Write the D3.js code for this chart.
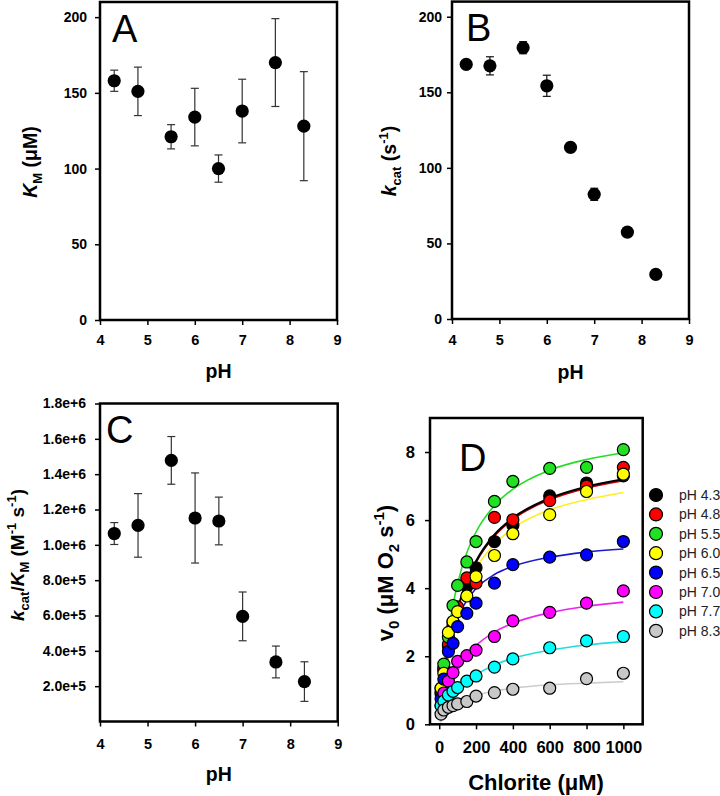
<!DOCTYPE html>
<html><head><meta charset="utf-8">
<script src="https://cdn.jsdelivr.net/npm/d3@7"></script>
<style>
body{margin:0;background:#fff}
svg{display:block}
text{font-family:"Liberation Sans",Arial,sans-serif}
</style>
</head><body>
<svg id="chart" width="720" height="796"></svg>
<script>
// ---------- data (panels A-C) ----------
const pH = [4.3, 4.8, 5.5, 6.0, 6.5, 7.0, 7.7, 8.3];
const kmVal = [158, 151, 121, 134, 100, 138, 170, 128];
const kmErr = [7, 16, 8, 19, 9, 21, 29, 36];
const kcatVal = [168.5, 167.5, 179.5, 154.3, 113.5, 82.5, 57.5, 29.5];
const kcatErr = [2, 6, 4, 7, 3, 4, 3, 2];
const effVal = [1.064e6, 1.11e6, 1.478e6, 1.152e6, 1.135e6, 5.95e5, 3.37e5, 2.26e5];
const effErr = [6.2e4, 1.8e5, 1.35e5, 2.55e5, 1.35e5, 1.38e5, 9e4, 1.12e5];
const phTicks = [4, 5, 6, 7, 8, 9];
const kmTicks = [0, 50, 100, 150, 200];
const kcatTicks = [0, 50, 100, 150, 200];
const effTicks = [2e5, 4e5, 6e5, 8e5, 1e6, 1.2e6, 1.4e6, 1.6e6, 1.8e6];

// ---------- data (panel D) ----------
const seriesNames = ["pH 4.3", "pH 4.8", "pH 5.5", "pH 6.0", "pH 6.5", "pH 7.0", "pH 7.7", "pH 8.3"];
const chlorite = [10, 25, 50, 75, 100, 150, 200, 300, 400, 600, 800, 1000];
const v43 = [0.90, 1.60, 2.30, 2.90, 3.40, 4.05, 4.60, 5.37, 5.85, 6.71, 7.09, 7.30];
const v48 = [0.95, 1.65, 2.35, 3.00, 3.45, 4.30, 4.15, 6.08, 6.01, 6.57, 7.00, 7.55];
const v55 = [1.05, 1.77, 2.56, 3.49, 4.08, 4.77, 5.37, 6.55, 7.14, 7.52, 7.55, 8.07];
const v60 = [1.06, 1.50, 2.70, 3.02, 3.31, 3.77, 4.34, 4.96, 5.60, 6.16, 6.84, 7.35];
const v65 = [0.75, 1.33, 2.14, 2.38, 2.87, 3.26, 3.56, 4.15, 4.69, 4.91, 4.98, 5.37];
const v70 = [0.55, 0.92, 1.27, 1.52, 1.85, 2.02, 2.18, 2.58, 3.04, 3.29, 3.56, 3.92];
const v77 = [0.55, 0.68, 0.86, 0.97, 1.08, 1.27, 1.42, 1.68, 1.92, 2.25, 2.45, 2.58];
const v83 = [0.30, 0.42, 0.50, 0.55, 0.60, 0.67, 0.83, 0.93, 1.03, 1.06, 1.34, 1.50];
const fitChlorite = [5, 25, 50, 75, 100, 150, 200, 300, 400, 600, 800, 1000];
const fit43 = [0.28, 1.22, 2.13, 2.84, 3.38, 4.21, 4.79, 5.57, 6.06, 6.64, 6.98, 7.20];
const fit48 = [0.25, 1.18, 2.09, 2.80, 3.34, 4.17, 4.75, 5.53, 6.02, 6.60, 6.94, 7.16];
const fit55 = [0.37, 1.59, 2.70, 3.51, 4.14, 5.04, 5.65, 6.43, 6.91, 7.47, 7.78, 7.98];
const fit60 = [0.27, 1.19, 2.06, 2.72, 3.25, 4.03, 4.58, 5.30, 5.76, 6.30, 6.60, 6.81];
const fit65 = [0.33, 1.34, 2.15, 2.71, 3.11, 3.64, 3.99, 4.40, 4.64, 4.91, 5.06, 5.15];
const fit70 = [0.13, 0.56, 0.98, 1.32, 1.59, 2.00, 2.31, 2.71, 2.97, 3.28, 3.47, 3.59];
const fit77 = [0.07, 0.32, 0.58, 0.79, 0.97, 1.24, 1.45, 1.74, 1.94, 2.18, 2.33, 2.43];
const fit83 = [0.05, 0.22, 0.38, 0.50, 0.60, 0.75, 0.85, 0.98, 1.06, 1.16, 1.21, 1.25];
const chloriteTicks = [0, 200, 400, 600, 800, 1000];
const vTicks = [0, 2, 4, 6, 8];

// styles
const fillColors = ["#000000", "#ff0000", "#22e022", "#ffff00", "#0000ff", "#ff00ff", "#00ffff", "#c8c8c8"];
const lineColors = ["#000000", "#cc0000", "#22dd22", "#ffee22", "#1a1acc", "#ee22ee", "#22dddd", "#cccccc"];

const vSeries = [v43, v48, v55, v60, v65, v70, v77, v83];
const fitSeries = [fit43, fit48, fit55, fit60, fit65, fit70, fit77, fit83];

const svg = d3.select("#chart");
svg.append("rect").attr("width", 720).attr("height", 796).attr("fill", "#fff");

function styleAxis(sel, fs) {
  sel.select(".domain").remove();
  sel.selectAll(".tick line").attr("stroke", "#000").attr("stroke-width", 1.5);
  sel.selectAll(".tick text").attr("fill", "#000").attr("font-weight", "bold")
     .attr("font-size", fs).attr("font-family", '"Liberation Sans",Arial,sans-serif');
}

function phPanel(o) {
  const g = svg.append("g");
  const x = d3.scaleLinear().domain([4, 9]).range([o.l, o.r]);
  const y = d3.scaleLinear().domain(o.yDom).range([o.b, o.t]);
  g.append("g").attr("transform", `translate(0,${o.b})`)
    .call(d3.axisBottom(x).tickValues(phTicks).tickSize(5).tickSizeOuter(0).tickPadding(o.xPad).tickFormat(d3.format("d")))
    .call(s => styleAxis(s, 14.5));
  g.append("g").attr("transform", `translate(${o.l},0)`)
    .call(d3.axisLeft(y).tickValues(o.yTicks).tickSize(5).tickSizeOuter(0).tickPadding(o.yPad).tickFormat(o.fmt))
    .call(s => styleAxis(s, 14));
  const rows = pH.map((p, i) => ({p, v: o.vals[i], e: o.errs[i]}));
  const eb = g.append("g").attr("stroke", o.errColor).attr("stroke-width", 1.2);
  rows.forEach(d => {
    eb.append("line").attr("x1", x(d.p)).attr("x2", x(d.p)).attr("y1", y(d.v - d.e)).attr("y2", y(d.v + d.e));
    [d.v - d.e, d.v + d.e].forEach(vv => eb.append("line")
      .attr("x1", x(d.p) - 4).attr("x2", x(d.p) + 4).attr("y1", y(vv)).attr("y2", y(vv)));
  });
  g.append("g").selectAll("circle").data(rows).join("circle")
    .attr("cx", d => x(d.p)).attr("cy", d => y(d.v)).attr("r", 6.6).attr("fill", "#000");
  g.append("rect").attr("x", o.l).attr("y", o.t).attr("width", o.r - o.l).attr("height", o.b - o.t)
    .attr("fill", "none").attr("stroke", "#000").attr("stroke-width", 2.5);
  g.append("text").attr("x", (o.l + o.r) / 2).attr("y", o.pHy).attr("text-anchor", "middle")
    .attr("font-weight", "bold").attr("font-size", 19.5).text("pH");
  g.append("text").attr("x", o.letX).attr("y", o.letY).attr("font-family", '"Open Sans",sans-serif')
    .attr("font-size", 38).text(o.letter);
  return g;
}

// Panel A
const gA = phPanel({l: 100, r: 337, t: 2, b: 320, yDom: [0, 210], yTicks: kmTicks, fmt: d3.format("d"),
  vals: kmVal, errs: kmErr, errColor: "#333", xPad: 10, yPad: 8, pHy: 378, letter: "A", letX: 112, letY: 42});
const tA = gA.append("text").attr("transform", "translate(37,162) rotate(-90)").attr("text-anchor", "middle")
  .attr("font-weight", "bold").attr("font-size", 19.5);
tA.append("tspan").attr("font-style", "italic").text("K");
tA.append("tspan").attr("font-size", 13).attr("dy", 5).text("M");
tA.append("tspan").attr("dy", -5).text(" (μM)");

// Panel B
const gB = phPanel({l: 452, r: 689, t: 1.6, b: 319, yDom: [0, 210], yTicks: kcatTicks, fmt: d3.format("d"),
  vals: kcatVal, errs: kcatErr, errColor: "#111", xPad: 11, yPad: 5, pHy: 379, letter: "B", letX: 466, letY: 41});
const tB = gB.append("text").attr("transform", "translate(396,161) rotate(-90)").attr("text-anchor", "middle")
  .attr("font-weight", "bold").attr("font-size", 19.5);
tB.append("tspan").attr("font-style", "italic").text("k");
tB.append("tspan").attr("font-size", 13).attr("dy", 5).text("cat");
tB.append("tspan").attr("dy", -5).text(" (s");
tB.append("tspan").attr("font-size", 13).attr("dy", -8).text("-1");
tB.append("tspan").attr("dy", 8).text(")");

// Panel C
const gC = phPanel({l: 100, r: 337.7, t: 403.5, b: 721.5, yDom: [0, 1.8e6], yTicks: effTicks, fmt: d3.format(".1e"),
  vals: effVal, errs: effErr, errColor: "#333", xPad: 12, yPad: 9, pHy: 781, letter: "C", letX: 106, letY: 443});
const tC = gC.append("text").attr("transform", "translate(24,555) rotate(-90)").attr("text-anchor", "middle")
  .attr("font-weight", "bold").attr("font-size", 19);
tC.append("tspan").attr("font-style", "italic").text("k");
tC.append("tspan").attr("font-size", 13).attr("dy", 5).text("cat");
tC.append("tspan").attr("dy", -5).text("/");
tC.append("tspan").attr("font-style", "italic").text("K");
tC.append("tspan").attr("font-size", 13).attr("dy", 5).text("M");
tC.append("tspan").attr("dy", -5).text(" (M");
tC.append("tspan").attr("font-size", 13).attr("dy", -8).text("-1");
tC.append("tspan").attr("dy", 8).text(" s");
tC.append("tspan").attr("font-size", 13).attr("dy", -8).text("-1");
tC.append("tspan").attr("dy", 8).text(")");

// Panel D
(function () {
  const g = svg.append("g");
  const l = 430, r = 642.7, t = 418, b = 724.3;
  const x = d3.scaleLinear().domain([-50, 1105]).range([l, r]);
  const y = d3.scaleLinear().domain([0, 9]).range([b, t]);
  g.append("g").attr("transform", `translate(0,${b})`)
    .call(d3.axisBottom(x).tickValues(chloriteTicks).tickSize(5).tickSizeOuter(0).tickPadding(12).tickFormat(d3.format("d")))
    .call(s => styleAxis(s, 16.5));
  g.append("g").attr("transform", `translate(${l},0)`)
    .call(d3.axisLeft(y).tickValues(vTicks).tickSize(5).tickSizeOuter(0).tickPadding(10).tickFormat(d3.format("d")))
    .call(s => styleAxis(s, 16.5));

  const line = d3.line().x(d => x(d[0])).y(d => y(d[1])).curve(d3.curveMonotoneX);
  const lg = g.append("g").attr("fill", "none");
  const lineOrder = [1, 0, 2, 3, 4, 5, 6, 7];
  lineOrder.forEach(i => {
    const pts = fitChlorite.map((c, j) => [c, fitSeries[i][j]]);
    lg.append("path").attr("d", line(pts)).attr("stroke", lineColors[i])
      .attr("stroke-width", i === 0 ? 2.2 : 1.6);
  });

  const pg = g.append("g");
  vSeries.forEach((vs, i) => {
    pg.append("g").selectAll("circle").data(chlorite.map((c, j) => ({c, v: vs[j]}))).join("circle")
      .attr("cx", d => x(d.c)).attr("cy", d => y(d.v)).attr("r", 6)
      .attr("fill", fillColors[i]).attr("stroke", "#000").attr("stroke-width", 1.2);
  });

  g.append("rect").attr("x", l).attr("y", t).attr("width", r - l).attr("height", b - t)
    .attr("fill", "none").attr("stroke", "#000").attr("stroke-width", 2.5);
  g.append("text").attr("x", 459).attr("y", 471).attr("font-family", '"Open Sans",sans-serif')
    .attr("font-size", 38).text("D");
  g.append("text").attr("x", 536).attr("y", 790).attr("text-anchor", "middle")
    .attr("font-weight", "bold").attr("font-size", 22).text("Chlorite (μM)");
  const tD = g.append("text").attr("transform", "translate(393,573) rotate(-90)").attr("text-anchor", "middle")
    .attr("font-weight", "bold").attr("font-size", 22);
  tD.append("tspan").text("v");
  tD.append("tspan").attr("font-size", 15).attr("dy", 6).text("0");
  tD.append("tspan").attr("dy", -6).text(" (μM O");
  tD.append("tspan").attr("font-size", 15).attr("dy", 6).text("2");
  tD.append("tspan").attr("dy", -6).text(" s");
  tD.append("tspan").attr("font-size", 15).attr("dy", -9).text("-1");
  tD.append("tspan").attr("dy", 9).text(")");

  // legend
  const leg = svg.append("g");
  seriesNames.forEach((nm, i) => {
    const yy = 495 + i * 19.4;
    leg.append("circle").attr("cx", 656).attr("cy", yy).attr("r", 6.5)
      .attr("fill", fillColors[i]).attr("stroke", "#000").attr("stroke-width", 1.2);
    leg.append("text").attr("x", 679).attr("y", yy).attr("dominant-baseline", "central")
      .attr("font-size", 14).attr("fill", "#222").text(nm);
  });
})();
</script>
</body></html>
